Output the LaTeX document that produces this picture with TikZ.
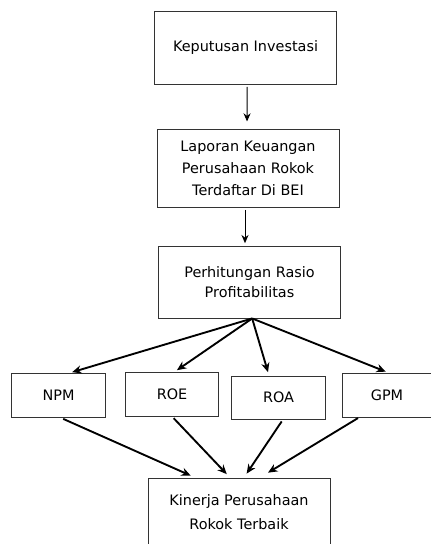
\documentclass[tikz,border=0pt]{standalone}
\usepackage{fontspec}
\setmainfont{DejaVu Sans}
\usepackage{tikz}
\usetikzlibrary{arrows.meta,calc}

\begin{document}
\begin{tikzpicture}[
  bigbox/.style={draw=black!80, line width=0.8pt, minimum width=5.46cm, align=center, font=\fontsize{12.3}{18.7}\selectfont},
  ratiobox/.style={draw=black!80, line width=0.8pt, minimum width=2.8cm, minimum height=1.32cm, font=\fontsize{12.3}{14}\selectfont},
  thinarrow/.style={-{Stealth[length=7pt,width=6pt]}, line width=0.8pt},
  fanarrow/.style={-{Stealth[length=8pt,width=7pt]}, line width=1.6pt}
]
\useasboundingbox (0,0) rectangle (12.9,16.32);
\node[bigbox, minimum height=2.19cm] (keputusan) at (7.365,14.895) {Keputusan Investasi};
\node[bigbox, minimum height=2.34cm] (laporan) at (7.44,11.28) {Laporan Keuangan\\Perusahaan Rokok\\Terdaftar Di BEI};
\node[bigbox, minimum height=2.16cm, font=\fontsize{12.3}{17.5}\selectfont] (rasio) at (7.485,7.86) {Perhitungan Rasio\\Profitabilitas};
\node[ratiobox] (npm) at (1.755,4.47) {NPM};
\node[ratiobox] (roe) at (5.16,4.5) {ROE};
\node[ratiobox, minimum height=1.29cm] (roa) at (8.355,4.395) {ROA};
\node[ratiobox, minimum width=2.7cm] (gpm) at (11.61,4.47) {GPM};
\node[bigbox, minimum height=2.04cm, font=\fontsize{12.3}{20}\selectfont] (kinerja) at (7.17,0.96) {Kinerja Perusahaan\\Rokok Terbaik};

\draw[thinarrow, shorten <=2pt, shorten >=6pt] ($(keputusan.south)+(0.05,0)$) -- ($(laporan.north)+(-0.03,0)$);
\draw[thinarrow, shorten <=2pt, shorten >=2pt] ($(laporan.south)+(-0.09,0)$) -- ($(rasio.north)+(-0.135,0)$);

% fan out to the ratios
\coordinate (fan) at ($(rasio.south)+(0.08,0)$);
\draw[fanarrow, shorten >=1pt] (fan) -- ($(npm.north)+(0.375,0)$);
\draw[fanarrow, shorten >=2pt] (fan) -- ($(roe.north)+(0.09,0)$);
\draw[fanarrow, shorten >=3pt] (fan) -- ($(roa.north)+(-0.285,0)$);
\draw[fanarrow, shorten >=2pt] (fan) -- ($(gpm.north)+(0.03,0)$);

% ratios into the result
\draw[fanarrow, shorten <=3pt, shorten >=4pt] ($(npm.south)+(0.045,0)$) -- ($(kinerja.north)+(-1.32,0)$);
\draw[fanarrow, shorten <=2pt, shorten >=4pt] (roe.south) -- ($(kinerja.north)+(-0.27,0)$);
\draw[fanarrow, shorten <=2pt, shorten >=4pt] ($(roa.south)+(0.135,0)$) -- ($(kinerja.north)+(0.15,0)$);
\draw[fanarrow, shorten <=1pt, shorten >=8pt] ($(gpm.south)+(-0.84,0)$) -- ($(kinerja.north)+(0.63,0)$);
\end{tikzpicture}
\end{document}
